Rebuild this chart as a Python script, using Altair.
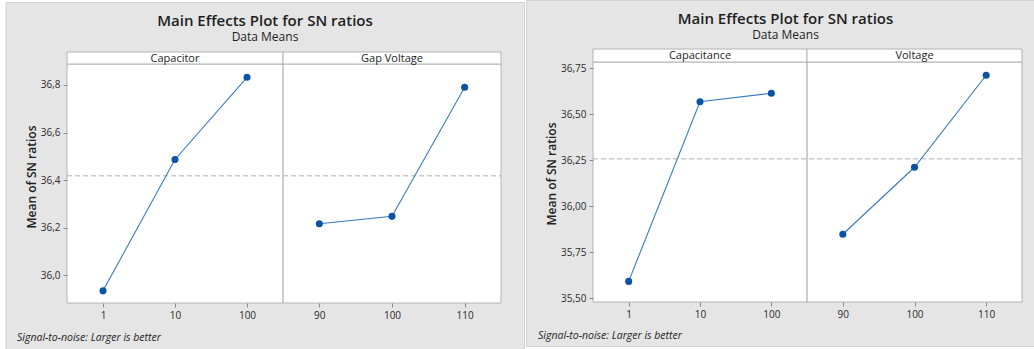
import altair as alt
import pandas as pd

# ---- data: mean SN ratio (larger is better) per factor level ----
capacitor_levels = ["1", "10", "100"]
capacitor_sn = [35.935, 36.487, 36.832]
gap_voltage_levels = ["90", "100", "110"]
gap_voltage_sn = [36.217, 36.248, 36.790]

capacitance_levels = ["1", "10", "100"]
capacitance_sn = [35.592, 36.568, 36.614]
voltage_levels = ["90", "100", "110"]
voltage_sn = [35.848, 36.212, 36.712]

left_ticks = [36.0, 36.2, 36.4, 36.6, 36.8]
right_ticks = [35.5, 35.75, 36.0, 36.25, 36.5, 36.75]

W, H = 1034, 349
FONT = "Open Sans"
POINT_COLOR = "#0B54A3"
LINE_COLOR = "#3A7AC2"
FIG_BG = "#E5E5E5"
FIG_EDGE = "#D2D2D2"
FRAME = "#B4B4B4"
DIVIDER = "#9C9C9C"
TEXT = "#1E1E1E"
TICK_TEXT = "#2A2A2A"

dummy = pd.DataFrame({"k": [0]})


def box(x, x2, y, y2, fill, stroke, sw=1):
    return alt.Chart(dummy).mark_rect(fill=fill, stroke=stroke, strokeWidth=sw).encode(
        x=alt.value(x), x2=alt.value(x2), y=alt.value(y), y2=alt.value(y2)
    )


def vline(x, y, y2, color):
    return alt.Chart(dummy).mark_rule(color=color, strokeWidth=1).encode(
        x=alt.value(x), y=alt.value(y), y2=alt.value(y2)
    )


def label(text, x, y, size, weight="normal", style="normal", align="center", angle=0, color=TEXT):
    return alt.Chart(dummy).mark_text(
        text=text, font=FONT, fontSize=size, fontWeight=weight, fontStyle=style,
        align=align, baseline="middle", angle=angle, color=color,
    ).encode(x=alt.value(x), y=alt.value(y))


def figure(factors, geo):
    """One main-effects figure: two factor panels sharing a y scale."""
    left, mid, right = geo["left"], geo["mid"], geo["right"]
    top, bottom = geo["top"], geo["bottom"]
    dec = geo["decimals"]

    rows = []
    for name, levels, values in factors:
        for lv, v in zip(levels, values):
            rows.append({"factor": name, "level": lv, "sn": v})
    df = pd.DataFrame(rows)

    y_scale = alt.Scale(domain=geo["domain"], range=[bottom, top], nice=False, zero=False)
    y_axis = alt.Axis(
        orient="left", offset=-left, values=geo["ticks"], grid=False, domain=False,
        tickSize=4, tickColor="#8A8A8A", labelColor=TICK_TEXT, labelFont=FONT,
        labelFontSize=10, labelPadding=3, title=None, zindex=2,
        labelExpr=f"replace(format(datum.value, '.{dec}f'), '.', ',')",
    )

    # reference line at the overall mean
    mean_rule = alt.Chart(df).mark_rule(color="#B0B0B0", strokeDash=[5, 3], strokeWidth=1).encode(
        y=alt.Y("mean(sn):Q", scale=y_scale, axis=y_axis),
        x=alt.value(left), x2=alt.value(right),
    )

    panels = []
    edges = [(left, mid), (mid, right)]
    for (name, levels, _), (x0, x1) in zip(factors, edges):
        sub = df[df["factor"] == name]
        x_enc = alt.X(
            "level:O", sort=levels,
            scale=alt.Scale(type="point", range=[x0, x1], padding=0.5),
            axis=alt.Axis(
                orient="bottom", offset=-(H - bottom), domain=False, grid=False,
                tickSize=4, tickColor="#8A8A8A", labelColor=TICK_TEXT, labelFont=FONT,
                labelFontSize=10, labelAngle=0, labelPadding=3, title=None, zindex=2,
            ),
        )
        y_enc = alt.Y("sn:Q", scale=y_scale, axis=y_axis)
        base = alt.Chart(sub)
        line = base.mark_line(color=LINE_COLOR, strokeWidth=1.1).encode(x=x_enc, y=y_enc)
        pts = base.mark_circle(color=POINT_COLOR, opacity=1, size=50).encode(x=x_enc, y=y_enc)
        panels.append(alt.layer(line, pts))

    return alt.layer(mean_rule, *panels).resolve_scale(x="independent")


left_geo = dict(left=67, mid=283, right=501, strip_top=52, top=64, bottom=303,
                domain=[35.884, 36.888], ticks=left_ticks, decimals=1)
right_geo = dict(left=593, mid=807, right=1022, strip_top=49, top=62, bottom=302,
                 domain=[35.48, 36.784], ticks=right_ticks, decimals=2)

left_factors = [("Capacitor", capacitor_levels, capacitor_sn),
                ("Gap Voltage", gap_voltage_levels, gap_voltage_sn)]
right_factors = [("Capacitance", capacitance_levels, capacitance_sn),
                 ("Voltage", voltage_levels, voltage_sn)]


def frame_layers(factors, geo):
    l, m, r = geo["left"], geo["mid"], geo["right"]
    st, t, b = geo["strip_top"], geo["top"], geo["bottom"]
    return [
        box(l, r, t, b, "#FFFFFF", FRAME),
        box(l, m, st, t, "#FFFFFF", FRAME),
        box(m, r, st, t, "#FFFFFF", FRAME),
        vline(m, t, b, DIVIDER),
        label(factors[0][0], (l + m) / 2, (st + t) / 2 + 0.5, 11),
        label(factors[1][0], (m + r) / 2, (st + t) / 2 + 0.5, 11),
    ]


layers = [
    # figure backgrounds
    box(6, 524.5, 2.5, 352, FIG_BG, FIG_EDGE),
    box(526.5, 1040, 0.5, 346.5, FIG_BG, FIG_EDGE),
    *frame_layers(left_factors, left_geo),
    *frame_layers(right_factors, right_geo),
    # titles
    label("Main Effects Plot for SN ratios", 265, 21, 15, weight=600),
    label("Data Means", 265, 37, 12),
    label("Main Effects Plot for SN ratios", 785.5, 19, 15, weight=600),
    label("Data Means", 785.5, 35, 12),
    # y-axis titles
    label("Mean of SN ratios", 32, 177, 12, weight=600, angle=270),
    label("Mean of SN ratios", 552, 174, 12, weight=600, angle=270),
    # footnotes
    label("Signal-to-noise: Larger is better", 17, 338, 10.5, style="italic", align="left"),
    label("Signal-to-noise: Larger is better", 538, 336, 10.5, style="italic", align="left"),
    figure(left_factors, left_geo),
    figure(right_factors, right_geo),
]

chart = (
    alt.layer(*layers)
    .resolve_scale(x="independent", y="independent")
    .properties(width=W, height=H, autosize=alt.AutoSizeParams(type="none"), padding=0,
                background="#FFFFFF")
    .configure_view(stroke=None)
)

chart.save("out.html", embed_options={"renderer": "svg", "actions": False})
